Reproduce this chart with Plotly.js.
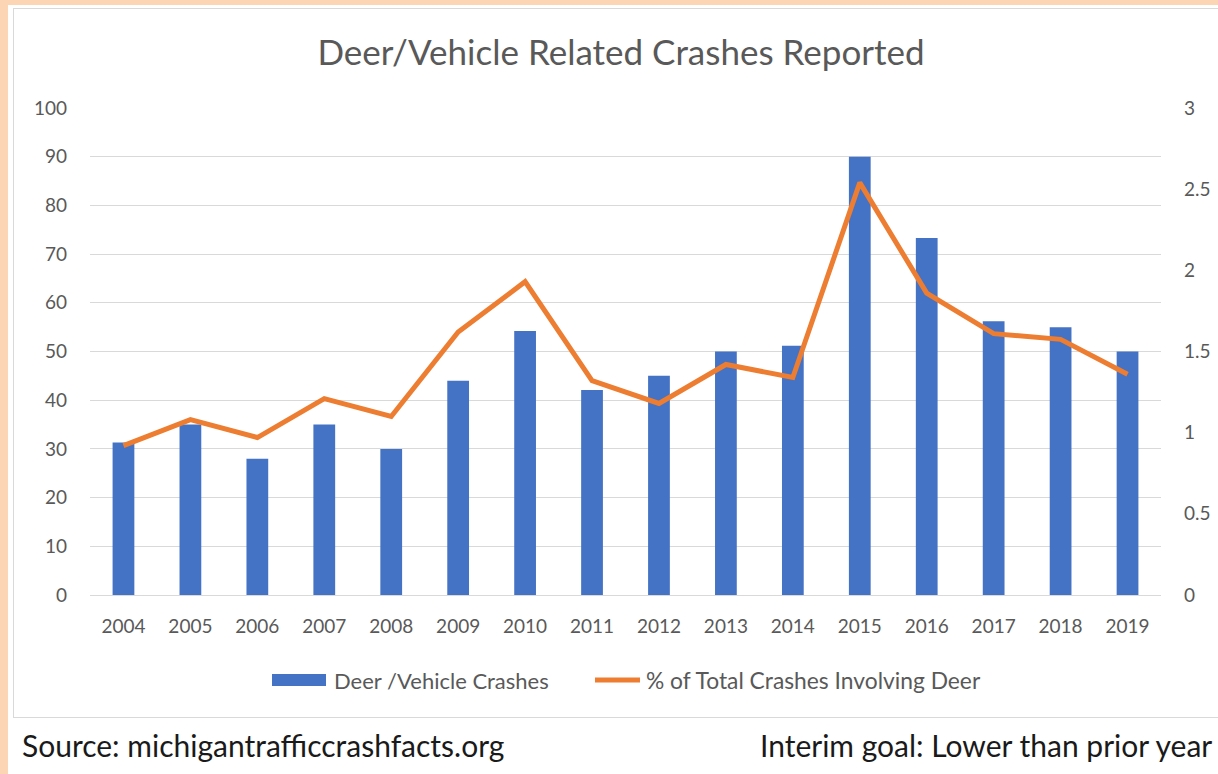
<!DOCTYPE html>
<html><head><meta charset="utf-8">
<script src="https://cdn.plot.ly/plotly-3.0.1.min.js"></script>
<style>
html,body{margin:0;padding:0;background:#FCD5B4;}
#wrap{position:relative;width:1218px;height:774px;overflow:hidden;}
#white{position:absolute;left:8px;top:5px;right:0;bottom:0;background:#fff;}
#box{position:absolute;left:13px;top:8px;width:1220px;height:710px;border:1px solid #d9d9d9;box-sizing:border-box;}
#chart{position:absolute;left:0;top:0;width:1218px;height:774px;}
</style></head>
<body>
<div id="wrap"><div id="white"></div><div id="box"></div><div id="chart"></div></div>
<script>
const years = ['2004','2005','2006','2007','2008','2009','2010','2011','2012','2013','2014','2015','2016','2017','2018','2019'];
const crashes = [31.3, 35, 28, 35, 30, 44, 54.2, 42.1, 45, 50, 51.2, 90, 73.3, 56.2, 55, 50];
const pctTotal = [0.92, 1.08, 0.97, 1.21, 1.10, 1.62, 1.93, 1.32, 1.18, 1.42, 1.34, 2.54, 1.86, 1.61, 1.575, 1.36];
const leftTicks = [0,10,20,30,40,50,60,70,80,90,100];
const rightTicks = [0,0.5,1,1.5,2,2.5,3];
const rightTickText = ['0','0.5','1','1.5','2','2.5','3'];
const seriesNames = ['Deer /Vehicle Crashes', '% of Total Crashes Involving Deer'];

const FONT = 'Lato, "Open Sans", sans-serif';
const GREY = '#595959';
const BLUE = '#4472C4', ORANGE = '#ED7D31';

// pixel -> paper helpers (plot area: x 90..1161, y 108..595)
const L = 90, T = 108, W = 1071, H = 487;
const px = v => (v - L) / W;
const py = v => (T + H - v) / H;

const traces = [
  {type:'bar', x:years, y:crashes, name:seriesNames[0], marker:{color:BLUE}, yaxis:'y', showlegend:false},
  {type:'scatter', mode:'lines', x:years, y:pctTotal, name:seriesNames[1], line:{color:ORANGE, width:5}, yaxis:'y2', showlegend:false}
];

const layout = {
  width:1218, height:774,
  margin:{l:L, r:1218-L-W, t:T, b:774-T-H},
  paper_bgcolor:'rgba(0,0,0,0)', plot_bgcolor:'rgba(0,0,0,0)',
  font:{family:FONT, color:GREY, size:20},
  title:{text:'Deer/Vehicle Related Crashes Reported', font:{family:FONT, size:35, color:GREY}, xref:'paper', x:px(621), xanchor:'center', yref:'container', y:1-53/774, yanchor:'middle'},
  bargap:0.675,
  showlegend:false,
  xaxis:{type:'category', tickfont:{size:19, color:GREY}, showgrid:false, showline:true, linecolor:'#d9d9d9', linewidth:1, ticks:'', ticklabelstandoff:14, fixedrange:true},
  yaxis:{range:[0,100], tickvals:leftTicks, ticktext:leftTicks.map(String), showgrid:true, gridcolor:'#d9d9d9', gridwidth:1, zeroline:false, showline:false, ticks:'', ticklabelstandoff:22, tickfont:{size:19, color:GREY}},
  yaxis2:{range:[0,3], overlaying:'y', side:'right', tickvals:rightTicks, ticktext:rightTickText, showgrid:false, zeroline:false, showline:false, ticks:'', ticklabelstandoff:22, tickfont:{size:19, color:GREY}},
  shapes:[
    {type:'rect', xref:'paper', yref:'paper', x0:px(272), x1:px(326), y0:py(686), y1:py(674), fillcolor:BLUE, line:{width:0}},
    {type:'line', xref:'paper', yref:'paper', x0:px(595), x1:px(640), y0:py(680), y1:py(680), line:{color:ORANGE, width:5}}
  ],
  annotations:[
    {text:seriesNames[0], xref:'paper', yref:'paper', x:px(332), xanchor:'left', y:py(680), yanchor:'middle', showarrow:false, font:{family:FONT, size:22, color:GREY}},
    {text:seriesNames[1], xref:'paper', yref:'paper', x:px(644), xanchor:'left', y:py(680), yanchor:'middle', showarrow:false, font:{family:FONT, size:22.8, color:GREY}},
    {text:'Source: michigantrafficcrashfacts.org', xref:'paper', yref:'paper', x:px(20), xanchor:'left', y:py(745), yanchor:'middle', showarrow:false, font:{family:FONT, size:30, color:'#1a1a1a'}},
    {text:'Interim goal: Lower than prior year', xref:'paper', yref:'paper', x:px(1214), xanchor:'right', y:py(745), yanchor:'middle', showarrow:false, font:{family:FONT, size:30, color:'#1a1a1a'}}
  ]
};
Plotly.newPlot('chart', traces, layout, {displayModeBar:false, staticPlot:true});
</script>
</body></html>
